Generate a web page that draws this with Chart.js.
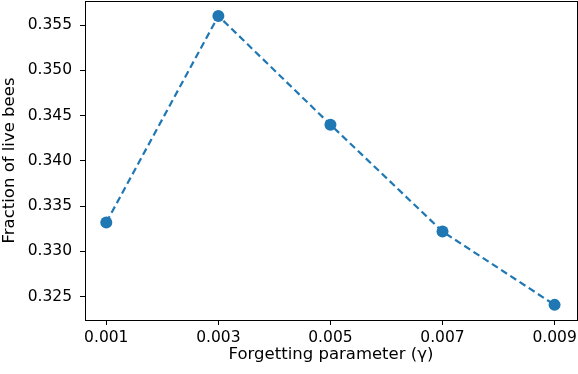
<!DOCTYPE html>
<html>
<head>
<meta charset="utf-8">
<script src="https://cdn.jsdelivr.net/npm/chart.js@4"></script>
<style>
  html, body { margin: 0; padding: 0; background: #fff; }
  #wrap { width: 578px; height: 374px; }
</style>
</head>
<body>
<div id="wrap"><canvas id="line-chart" width="578" height="374"></canvas></div>
<script>
// datos
const gammaValues = [0.001, 0.003, 0.005, 0.007, 0.009];
const liveBees = [0.3332, 0.3560, 0.3440, 0.3322, 0.3241];
const xTicks = [0.001, 0.003, 0.005, 0.007, 0.009];
const yTicks = [0.325, 0.330, 0.335, 0.340, 0.345, 0.350, 0.355];

const azul = '#1f77b4';
const fuenteTicks = { family: 'DejaVu Sans', size: 15.5 };
const fuenteTitulo = { family: 'DejaVu Sans', size: 16.5 };

// marco alrededor del area del grafico
const marco = {
  id: 'marco',
  afterDraw(chart) {
    const a = chart.chartArea;
    const ctx = chart.ctx;
    ctx.save();
    ctx.strokeStyle = '#000';
    ctx.lineWidth = 1;
    ctx.strokeRect(Math.round(a.left) + 0.5, Math.round(a.top) + 0.5,
      Math.round(a.right - a.left), Math.round(a.bottom - a.top));
    ctx.restore();
  }
};

const contenedor = document.querySelector('#line-chart').getContext('2d');

const lineChart = new Chart(contenedor, {
  type: 'line',
  data: {
    datasets: [{
      data: gammaValues.map((g, i) => ({ x: g, y: liveBees[i] })),
      borderColor: azul,
      backgroundColor: azul,
      borderWidth: 2.2,
      borderDash: [7, 4],
      pointRadius: 6,
      pointHoverRadius: 6,
      pointBorderWidth: 0,
      tension: 0,
    }]
  },
  options: {
    responsive: false,
    animation: false,
    layout: { autoPadding: false, padding: { top: 1, right: 1, bottom: 9, left: 0 } },
    plugins: { legend: { display: false }, tooltip: { enabled: false } },
    scales: {
      x: {
        type: 'linear',
        min: 0.00062,
        max: 0.0094,
        afterBuildTicks: (s) => { s.ticks = xTicks.map(v => ({ value: v })); },
        afterFit: (s) => { s.height = 45; s.paddingLeft = 0; s.paddingRight = 0; },
        ticks: {
          color: '#000',
          font: fuenteTicks,
          padding: 4,
          maxRotation: 0,
          callback: (v) => v.toFixed(3),
        },
        grid: { drawOnChartArea: false, tickLength: 5, color: '#000' },
        border: { display: false },
        title: {
          display: true,
          text: 'Forgetting parameter (γ)',
          color: '#000',
          font: fuenteTitulo,
          padding: { top: 0, bottom: 0 },
        },
      },
      y: {
        min: 0.32243,
        max: 0.35765,
        afterBuildTicks: (s) => { s.ticks = yTicks.map(v => ({ value: v })); },
        afterFit: (s) => { s.width = 85; s.paddingTop = 0; s.paddingBottom = 0; },
        ticks: {
          color: '#000',
          font: fuenteTicks,
          padding: 8,
          callback: (v) => v.toFixed(3),
        },
        grid: { drawOnChartArea: false, tickLength: 5, color: '#000' },
        border: { display: false },
        title: {
          display: true,
          text: 'Fraction of live bees',
          color: '#000',
          font: fuenteTitulo,
          padding: { top: 0, bottom: 0 },
        },
      }
    }
  },
  plugins: [marco]
});
</script>
</body>
</html>
